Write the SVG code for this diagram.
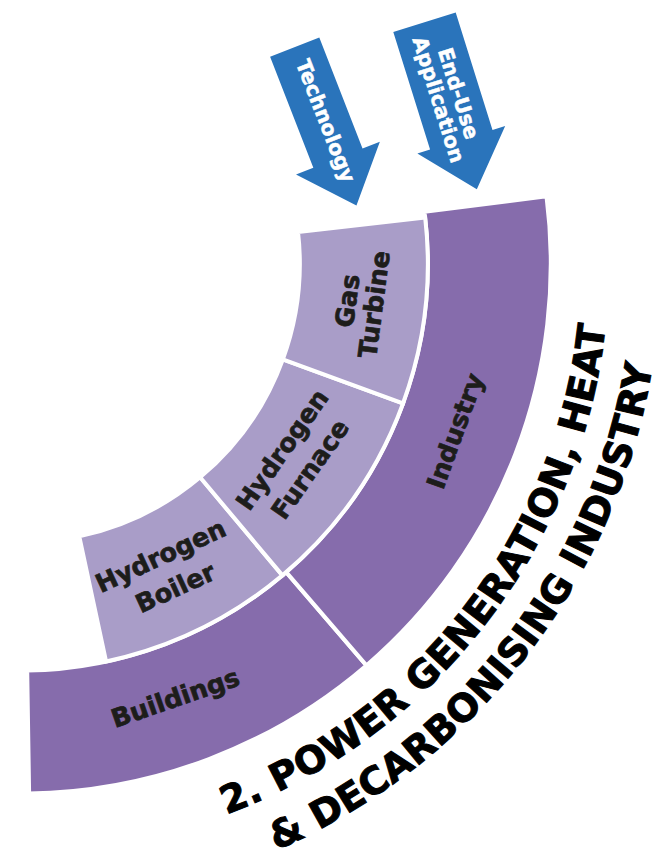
<svg xmlns="http://www.w3.org/2000/svg" width="668" height="854" viewBox="0 0 668 854">
<style>
.dark{fill:#866CAC;stroke:#fff;stroke-width:4;stroke-linejoin:miter}
.light{fill:#A99DC8;stroke:#fff;stroke-width:4;stroke-linejoin:miter}
.lbl{font-family:"DejaVu Sans","Liberation Sans",sans-serif;font-weight:bold;font-size:25.5px;fill:#1d1d1b;stroke:#1d1d1b;stroke-width:0.7;text-anchor:middle}
.title{font-family:"DejaVu Sans","Liberation Sans",sans-serif;font-weight:bold;font-size:38px;fill:#000;stroke:#000;stroke-width:1;text-anchor:middle}
.arrow{fill:#2A74BB}
.atxt{font-family:"DejaVu Sans","Liberation Sans",sans-serif;font-weight:bold;font-size:20.5px;fill:#fff;stroke:#fff;stroke-width:0.5;text-anchor:middle}
</style>
<defs>
<path id="t1" d="M 145.06 838.32 A 588 588 0 0 0 608.37 241.03"/>
<path id="t2" d="M 156.05 889.15 A 640 640 0 0 0 660.33 239.03"/>
</defs>
<rect width="668" height="854" fill="#fff"/>

<g id="buildings">
<path class="dark" d="M 27.19 670.55 L 29.12 793.53 A 530 530 0 0 0 366.41 665.41 L 286.20 572.16 A 407 407 0 0 1 27.19 670.55 Z"/>
<text class="lbl" transform="translate(176,700) rotate(-19)" y="6.6">Buildings</text>
</g>
<g id="industry">
<path class="dark" d="M 286.20 572.16 L 366.41 665.41 A 530 530 0 0 0 546.50 196.26 L 424.50 211.88 A 407 407 0 0 1 286.20 572.16 Z"/>
<text class="lbl" transform="translate(457.3,431.7) rotate(-70)" y="6.6">Industry</text>
</g>
<g id="hydrogen-boiler">
<path class="light" d="M 79.28 536.40 L 106.11 661.56 A 407 407 0 0 0 282.41 575.38 L 200.14 477.33 A 279 279 0 0 1 79.28 536.40 Z"/>
<g transform="translate(167.8,571.3) rotate(-24.7)">
<text class="lbl" y="-8">Hydrogen</text>
<text class="lbl" y="27">Boiler</text>
</g>
</g>
<g id="hydrogen-furnace">
<path class="light" d="M 200.14 477.33 L 282.41 575.38 A 407 407 0 0 0 403.01 403.47 L 282.81 359.48 A 279 279 0 0 1 200.14 477.33 Z"/>
<g transform="translate(295.8,459.2) rotate(-55)">
<text class="lbl" y="-7.7">Hydrogen</text>
<text class="lbl" y="26.3">Furnace</text>
</g>
</g>
<g id="gas-turbine">
<path class="light" d="M 282.81 359.48 L 403.01 403.47 A 407 407 0 0 0 425.18 217.53 L 298.01 232.02 A 279 279 0 0 1 282.81 359.48 Z"/>
<g transform="translate(360.3,302.5) rotate(-82.5)">
<text class="lbl" y="-4.2">Gas</text>
<text class="lbl" y="22.8">Turbine</text>
</g>
</g>

<g id="title">
<text class="title"><textPath href="#t1" startOffset="50%" textLength="651" lengthAdjust="spacing">2. POWER GENERATION, HEAT</textPath></text>
<text class="title"><textPath href="#t2" startOffset="50%" textLength="640" lengthAdjust="spacing">&amp; DECARBONISING INDUSTRY</textPath></text>
</g>

<g id="connectors">
<g id="technology" transform="translate(294.7,47.2) rotate(-21.3)">
<polygon class="arrow" points="-26.4,0 26.4,0 26.4,119 45,119 0,170 -45,119 -26.4,119"/>
<text class="atxt" transform="translate(0,80) rotate(90)" y="5">Technology</text>
</g>
<g id="end-use-application" transform="translate(424.5,22.3) rotate(-17.4)">
<polygon class="arrow" points="-32.7,0 32.7,0 32.7,123 46,123 0,175 -46,123 -32.7,123"/>
<g transform="translate(0,78) rotate(90)">
<text class="atxt" y="-4.2">End-Use</text>
<text class="atxt" y="16.8">Application</text>
</g>
</g>
</g>
</svg>
